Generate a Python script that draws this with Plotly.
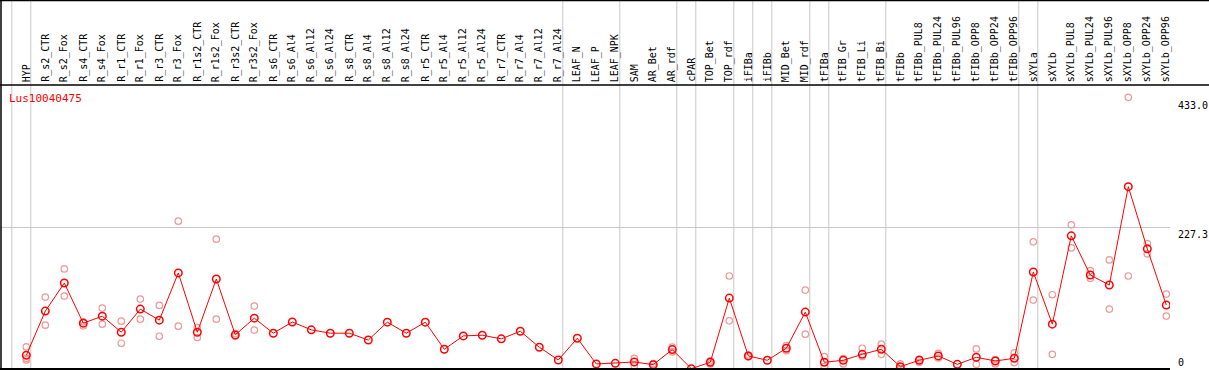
import plotly.graph_objects as go

labels = ["HYP", "R_s2_CTR", "R_s2_Fox", "R_s4_CTR", "R_s4_Fox", "R_r1_CTR", "R_r1_Fox",
          "R_r3_CTR", "R_r3_Fox", "R_r1s2_CTR", "R_r1s2_Fox", "R_r3s2_CTR", "R_r3s2_Fox",
          "R_s6_CTR", "R_s6_Al4", "R_s6_Al12", "R_s6_Al24", "R_s8_CTR", "R_s8_Al4", "R_s8_Al12",
          "R_s8_Al24", "R_r5_CTR", "R_r5_Al4", "R_r5_Al12", "R_r5_Al24", "R_r7_CTR", "R_r7_Al4",
          "R_r7_Al12", "R_r7_Al24", "LEAF_N", "LEAF_P", "LEAF_NPK", "SAM", "AR_Bet", "AR_rdf",
          "cPAR", "TOP_Bet", "TOP_rdf", "iFIBa", "iFIBb", "MID_Bet", "MID_rdf", "tFIBa",
          "tFIB_Gr", "tFIB_Li", "tFIB_Bi", "tFIBb", "tFIBb_PUL8", "tFIBb_PUL24", "tFIBb_PUL96",
          "tFIBb_OPP8", "tFIBb_OPP24", "tFIBb_OPP96", "sXYLa", "sXYLb", "sXYLb_PUL8",
          "sXYLb_PUL24", "sXYLb_PUL96", "sXYLb_OPP8", "sXYLb_OPP24", "sXYLb_OPP96"]

mean_vals = [22.0, 93.0, 138.1, 73.6, 84.9, 59.1, 96.2, 78.5, 154.3, 59.1,
             144.6, 54.8, 81.7, 57.5, 75.5, 62.9, 57.5, 57.5, 46.5, 75.2,
             57.5, 75.2, 31.7, 53.2, 54.3, 48.4, 60.7, 35.0, 14.5, 49.4,
             8.1, 9.1, 11.3, 7.0, 31.2, 0.5, 10.8, 113.9, 21.0, 14.0,
             33.3, 91.4, 10.8, 14.0, 23.6, 31.7, 3.8, 14.0, 21.0, 7.5,
             18.8, 12.9, 17.2, 155.9, 72.0, 213.9, 151.0, 134.9, 292.9, 193.0, 102.7]

N = None
rep1 = [35.5, 115.6, 160.7, 75.8, 97.8, 76.8, 112.4, 102.1, 237.5, 66.6,
        208.5, 57.0, 101.1, N, N, N, N, N, N, N,
        N, N, N, N, N, N, N, N, N, N,
        N, N, 17.2, 8.5, 35.0, N, 12.9, 149.4, 22.5, N,
        37.6, 126.8, 19.9, 16.6, 33.3, 40.0, 8.1, 16.1, 25.0, N,
        32.2, 15.0, 25.8, 204.3, 119.3, 231.6, 158.0, 175.2, 436.4, 201.5, 120.4]
rep2 = [17.2, 70.4, 117.2, 69.3, 72.0, 41.4, 80.1, 52.6, 68.8, 50.5,
        80.1, 52.5, 62.6, N, N, N, N, N, N, N,
        N, N, N, N, N, N, N, N, N, N,
        N, N, 4.8, 3.8, 27.4, N, 8.1, 77.4, 19.5, N,
        29.5, 55.9, 3.8, 8.1, 19.9, 23.6, 1.1, 10.8, 17.7, N,
        7.5, 8.1, 10.2, 110.7, 23.6, 194.5, 145.6, 96.2, 149.4, 184.9, 85.0]
rep3 = [14.5] + [N] * 60

# last column index of each group (separators drawn just right of them)
group_ends = [-1, 0, 28, 31, 34, 35, 37, 38, 39, 41, 42, 45, 52, 53, 60]

gene = "Lus10040475"
axis_max_label = "433.0"
axis_mid_label = "227.3"
axis_mid = 227.3
axis_top = 433.0

xs = list(range(len(labels)))

fig = go.Figure()
pink = "#ee9999"
for reps in (rep1, rep2, rep3):
    fig.add_trace(go.Scatter(
        x=xs, y=reps, mode="markers",
        marker=dict(symbol="circle-open", size=6.5, color=pink, line=dict(width=1.2, color=pink)),
        showlegend=False, hoverinfo="skip"))
fig.add_trace(go.Scatter(
    x=xs, y=mean_vals, mode="lines+markers",
    line=dict(color="#ff0000", width=1),
    marker=dict(symbol="circle-open", size=7.5, color="#ff0000", line=dict(width=1.5, color="#ff0000")),
    showlegend=False))

W, H = 1209, 370
plot_left, plot_right = 1, 1170
plot_top, plot_bottom = 85, 369
px_per_col = 19.0
x0 = -1.332
x1 = x0 + (plot_right - plot_left) / px_per_col
ymax = 456.2

def py(pix):
    # figure pixel y -> paper y (margin t=0, b=1)
    return (plot_bottom - pix) / (plot_bottom - 0)

shapes = []
grey = "#c8c8c8"
for g in group_ends:
    shapes.append(dict(type="line", xref="x", yref="paper", x0=g + 0.237, x1=g + 0.237,
                       y0=0, y1=1, line=dict(color=grey, width=1), layer="below"))
shapes.append(dict(type="line", xref="paper", yref="y", x0=-0.001, x1=1, y0=axis_mid, y1=axis_mid,
                   line=dict(color=grey, width=1), layer="below"))
# black frame lines
xr = (W - plot_left) / (plot_right - plot_left)
shapes.append(dict(type="line", xref="paper", yref="paper", x0=-0.001, x1=xr, y0=py(85), y1=py(85),
                   line=dict(color="black", width=1.5)))
shapes.append(dict(type="line", xref="paper", yref="paper", x0=-0.001, x1=xr, y0=py(0.5), y1=py(0.5),
                   line=dict(color="black", width=1.5)))
shapes.append(dict(type="line", xref="paper", yref="paper", x0=0, x1=0, y0=0, y1=1,
                   line=dict(color="black", width=1.5)))
shapes.append(dict(type="line", xref="paper", yref="paper", x0=-0.001, x1=1, y0=0, y1=0,
                   line=dict(color="black", width=2)))

font = "DejaVu Sans Mono"
ann = []
for i, lab in enumerate(labels):
    ann.append(dict(x=i, xref="x", y=py(83), yref="paper", text=lab, textangle=-90,
                    showarrow=False, xanchor="center", yanchor="bottom",
                    font=dict(family=font, size=10, color="black"), borderpad=0))
ann.append(dict(x=(8 - plot_left) / (plot_right - plot_left), xref="paper", y=py(91), yref="paper",
                text=gene, showarrow=False, xanchor="left", yanchor="top",
                font=dict(family=font, size=11, color="#ff0000"), borderpad=0))
lx = (1177 - plot_left) / (plot_right - plot_left)
ann.append(dict(x=lx, xref="paper", y=axis_top, yref="y", text=axis_max_label, showarrow=False,
                xanchor="left", yanchor="top", font=dict(family=font, size=10, color="black"), borderpad=0))
ann.append(dict(x=lx, xref="paper", y=axis_mid, yref="y", text=axis_mid_label, showarrow=False,
                xanchor="left", yanchor="top", font=dict(family=font, size=10, color="black"), borderpad=0))
ann.append(dict(x=lx, xref="paper", y=py(362), yref="paper", text="0", showarrow=False,
                xanchor="left", yanchor="middle", font=dict(family=font, size=10, color="black"), borderpad=0))

fig.update_layout(
    width=W, height=H,
    margin=dict(l=plot_left, r=W - plot_right, t=0, b=H - plot_bottom, pad=0),
    paper_bgcolor="white", plot_bgcolor="white",
    xaxis=dict(range=[x0, x1], visible=False, fixedrange=True),
    yaxis=dict(range=[0, ymax], visible=False, fixedrange=True,
               domain=[0, py(plot_top)]),
    shapes=shapes, annotations=ann, showlegend=False,
)
fig.write_html("out.html", config={"displayModeBar": False},
               post_script="document.body.style.margin='0';document.body.style.overflow='hidden';")
